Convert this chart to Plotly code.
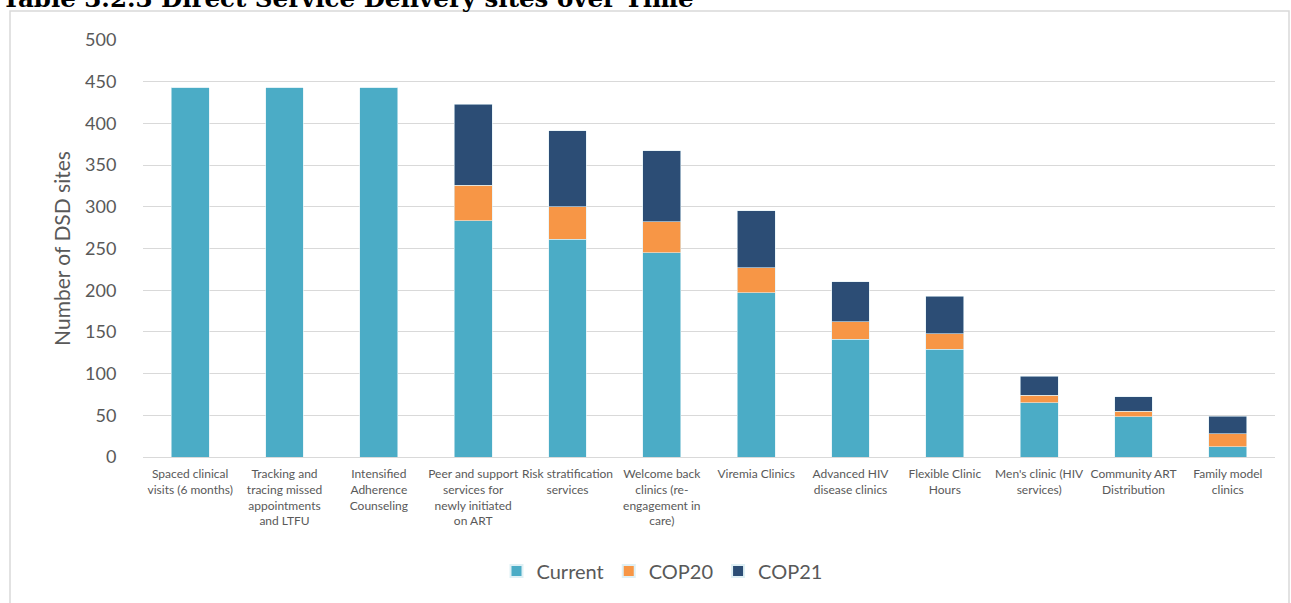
import plotly.graph_objects as go

categories = [
    "Spaced clinical<br>visits (6 months)",
    "Tracking and<br>tracing missed<br>appointments<br>and LTFU",
    "Intensified<br>Adherence<br>Counseling",
    "Peer and support<br>services for<br>newly initiated<br>on ART",
    "Risk stratification<br>services",
    "Welcome back<br>clinics (re-<br>engagement in<br>care)",
    "Viremia Clinics",
    "Advanced HIV<br>disease clinics",
    "Flexible Clinic<br>Hours",
    "Men's clinic (HIV<br>services)",
    "Community ART<br>Distribution",
    "Family model<br>clinics",
]
current = [443, 443, 443, 283, 261, 245, 197, 141, 129, 65, 48, 12]
cop20 = [0, 0, 0, 43, 39, 37, 30, 21, 19, 9, 7, 16]
cop21 = [0, 0, 0, 97, 91, 85, 68, 48, 45, 23, 17, 21]
y_ticks = [0, 50, 100, 150, 200, 250, 300, 350, 400, 450, 500]

font = "Lato, Open Sans, sans-serif"
txt = "#595959"

fig = go.Figure()
for name, vals, col in [("Current", current, "#4BACC6"),
                        ("COP20", cop20, "#F79646"),
                        ("COP21", cop21, "#2C4D75")]:
    fig.add_trace(go.Bar(name=name, x=categories, y=vals,
                         marker=dict(color=col, line=dict(color="#dff0f5", width=0.6))))

W, H = 1291, 603
l, r, t, b = 143, 16, 40, 146
pw, ph = W - l - r, H - t - b

def px(x):
    return (x - l) / pw

def py(y):
    return (H - b - y) / ph

fig.update_layout(
    barmode="stack",
    bargap=0.6,
    width=W, height=H,
    margin=dict(l=l, r=r, t=t, b=b),
    paper_bgcolor="white", plot_bgcolor="white",
    font=dict(family=font, color=txt),
    showlegend=True,
    legend=dict(orientation="h", x=px(662), xanchor="center", y=py(571), yanchor="middle",
                font=dict(size=20, color=txt), traceorder="normal",
                itemwidth=30, itemsizing="constant"),
    xaxis=dict(tickfont=dict(size=12, color=txt), tickangle=0, showline=True, linecolor="#d9d9d9",
               linewidth=1, ticks="outside", ticklen=6, tickcolor="rgba(0,0,0,0)", showgrid=False),
    yaxis=dict(range=[0, 500], tickvals=y_ticks, tickfont=dict(size=18, color=txt),
               showgrid=True, gridcolor="#d9d9d9", gridwidth=1, zeroline=False,
               ticks="outside", ticklen=22, tickcolor="rgba(0,0,0,0)",
               title=dict(text="Number of DSD sites", font=dict(size=21, color=txt), standoff=8)),
    shapes=[dict(type="rect", xref="paper", yref="paper",
                 x0=px(10), x1=px(1289), y0=py(620), y1=py(11),
                 line=dict(color="#d9d9d9", width=1.5), fillcolor="rgba(0,0,0,0)", layer="below")],
    annotations=[dict(text="<b>Table 3.2.3 Direct Service Delivery sites over Time</b>",
                      xref="paper", yref="paper", x=px(0), y=py(-1), xanchor="left", yanchor="middle",
                      showarrow=False, font=dict(family="DejaVu Serif, Liberation Serif, serif", size=24.5, color="#000"))],
)
fig.write_html("out.html")
